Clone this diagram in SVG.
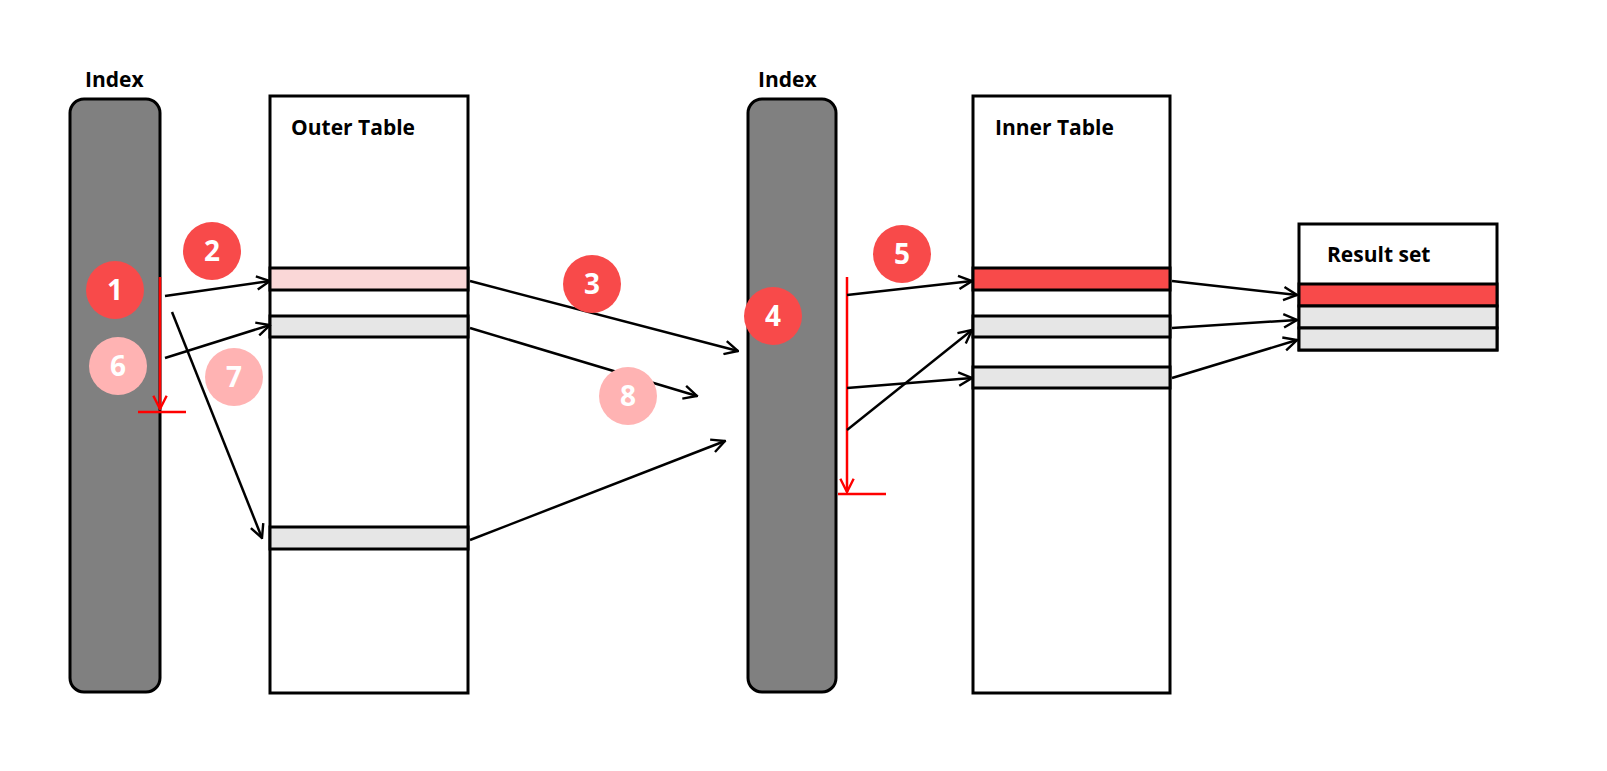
<svg xmlns="http://www.w3.org/2000/svg" width="1607" height="771" viewBox="0 0 1607 771">
<defs>
<marker id="ah" viewBox="0 0 12 12" refX="11" refY="6" markerWidth="16" markerHeight="16" markerUnits="userSpaceOnUse" orient="auto"><path d="M1,1 L11,6 L1,11" fill="none" stroke="#000" stroke-width="1.8"/></marker>
<marker id="rah" viewBox="0 0 12 12" refX="11" refY="6" markerWidth="16" markerHeight="16" markerUnits="userSpaceOnUse" orient="auto"><path d="M1,1 L11,6 L1,11" fill="none" stroke="#f00" stroke-width="1.8"/></marker>
</defs>
<style>
text{font-family:"Open Sans","Liberation Sans",sans-serif;font-weight:bold}
.lbl{font-size:21px;fill:#000}
.num{font-size:28px;fill:#fff;text-anchor:middle}
.idx{fill:#808080;stroke:#000;stroke-width:3}
.tbl{fill:#fff;stroke:#000;stroke-width:3}
.row{stroke:#000;stroke-width:3}
.c1{fill:#f84a4a}.c2{fill:#ffb3b3}
.con{stroke:#000;stroke-width:2.5;fill:none;marker-end:url(#ah)}
.red{stroke:#f00;stroke-width:2.5;fill:none}
</style>
<rect width="1607" height="771" fill="#fff"/>
<g id="index1"><text class="lbl" x="85" y="87">Index</text><rect class="idx" x="70" y="99" width="90" height="593" rx="14"/></g>
<g id="outer"><rect class="tbl" x="270" y="96" width="198" height="597"/><text class="lbl" x="291" y="135">Outer Table</text>
<rect class="row" x="270" y="268" width="198" height="22" fill="#fad7d7"/>
<rect class="row" x="270" y="316" width="198" height="21" fill="#e6e6e6"/>
<rect class="row" x="270" y="527" width="198" height="22" fill="#e6e6e6"/></g>
<g id="index2"><text class="lbl" x="758" y="87">Index</text><rect class="idx" x="748" y="99" width="88" height="593" rx="14"/></g>
<g id="inner"><rect class="tbl" x="973" y="96" width="197" height="597"/><text class="lbl" x="995" y="135">Inner Table</text>
<rect class="row" x="973" y="268" width="197" height="22" fill="#f84a4a"/>
<rect class="row" x="973" y="316" width="197" height="21" fill="#e6e6e6"/>
<rect class="row" x="973" y="367" width="197" height="21" fill="#e6e6e6"/></g>
<g id="result"><rect class="tbl" x="1299" y="224" width="198" height="126"/><text class="lbl" x="1327" y="262">Result set</text>
<rect class="row" x="1299" y="284" width="198" height="22" fill="#f84a4a"/>
<rect class="row" x="1299" y="306" width="198" height="22" fill="#e6e6e6"/>
<rect class="row" x="1299" y="328" width="198" height="22" fill="#e6e6e6"/></g>
<g id="connectors">
<path class="red" d="M160,277 V409" marker-end="url(#rah)"/><path class="red" d="M138,412 H186"/>
<path class="red" d="M847,277 V492" marker-end="url(#rah)"/><path class="red" d="M838,494 H886"/>
<path class="con" d="M165,296 L270,281"/>
<path class="con" d="M165,358 L270,325"/>
<path class="con" d="M172,312 L262,538"/>
<path class="con" d="M470,281 L738,351"/>
<path class="con" d="M470,328 L697,396"/>
<path class="con" d="M470,540 L725,441"/>
<path class="con" d="M847,295 L972,281"/>
<path class="con" d="M847,388 L972,378"/>
<path class="con" d="M847,430 L972,330"/>
<path class="con" d="M1172,281 L1297,295"/>
<path class="con" d="M1172,328 L1297,320"/>
<path class="con" d="M1172,378 L1297,340"/>
</g>
<g id="badges">
<circle class="c1" cx="115" cy="290" r="29"/><text class="num" x="115" y="300">1</text>
<circle class="c1" cx="212" cy="251" r="29"/><text class="num" x="212" y="261">2</text>
<circle class="c1" cx="592" cy="284" r="29"/><text class="num" x="592" y="294">3</text>
<circle class="c1" cx="773" cy="316" r="29"/><text class="num" x="773" y="326">4</text>
<circle class="c1" cx="902" cy="254" r="29"/><text class="num" x="902" y="264">5</text>
<circle class="c2" cx="118" cy="366" r="29"/><text class="num" x="118" y="376">6</text>
<circle class="c2" cx="234" cy="377" r="29"/><text class="num" x="234" y="387">7</text>
<circle class="c2" cx="628" cy="396" r="29"/><text class="num" x="628" y="406">8</text>
</g>
</svg>
